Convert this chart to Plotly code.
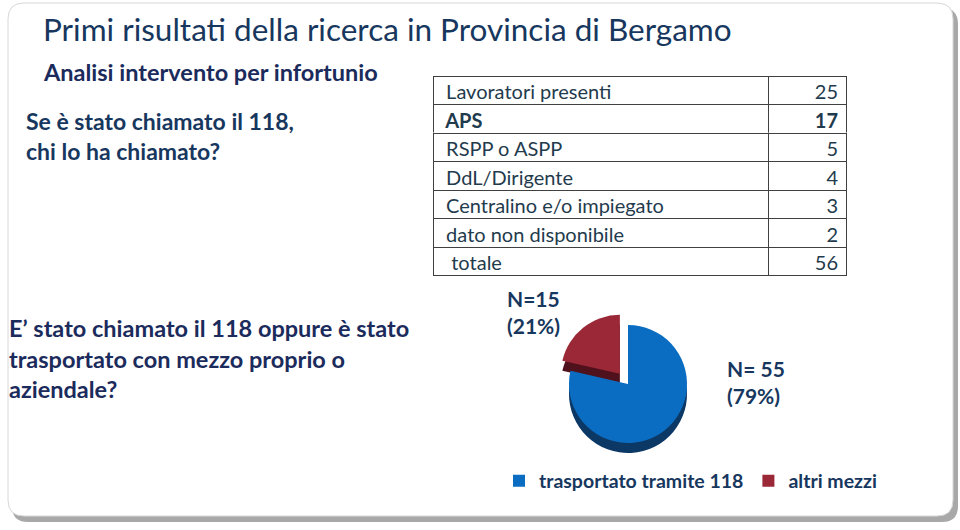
import plotly.graph_objects as go

# ---- data ----
table_labels = ["Lavoratori presenti", "APS", "RSPP o ASPP", "DdL/Dirigente",
                "Centralino e/o impiegato", "dato non disponibile", "totale"]
table_values = ["25", "17", "5", "4", "3", "2", "56"]
bold_row = "APS"

pie_labels = ["trasportato tramite 118", "altri mezzi"]
pie_values = [55, 15]
pie_text = ["N= 55<br>(79%)", "N=15<br>(21%)"]

W, H = 960, 530
FONT = "Lato"
NAVY = "#1B2B5C"
TEAL = "#17375E"
TXT = "#1F3B4D"


def px(x):
    return x / W


def py(y):
    return 1 - y / H


def rrect(x0, y0, x1, y1, r):
    X0, X1 = px(x0), px(x1)
    Y0, Y1 = py(y0), py(y1)
    rx, ry = r / W, r / H
    return (f"M {X0+rx},{Y0} L {X1-rx},{Y0} Q {X1},{Y0} {X1},{Y0-ry} "
            f"L {X1},{Y1+ry} Q {X1},{Y1} {X1-rx},{Y1} L {X0+rx},{Y1} "
            f"Q {X0},{Y1} {X0},{Y1+ry} L {X0},{Y0-ry} Q {X0},{Y0} {X0+rx},{Y0} Z")


pad = "\u00a0"
labs = [pad + (pad if l == "totale" else "") + l for l in table_labels]

fig = go.Figure()

# table, split into blocks so that one row can be bold
ROW = 28.5
TOP = 76
TX0, TX1 = 433, 846
bi = table_labels.index(bold_row)
n = len(table_labels)
blocks = [(0, bi, "normal"), (bi, bi + 1, "bold"), (bi + 1, n, "normal")]
for s, e, wt in blocks:
    if s >= e:
        continue
    y0 = TOP + s * ROW
    y1 = TOP + e * ROW + (2.5 if e == n else 0.5)
    common = dict(align=["left", "right"], height=ROW, fill_color="white",
                  line=dict(color="#404040", width=1),
                  font=dict(family=FONT, size=20, color=TXT, weight=wt))
    fig.add_trace(go.Table(
        domain=dict(x=[px(TX0), px(TX1)], y=[py(y1), py(y0)]),
        columnwidth=[335, 78],
        header=dict(values=[labs[s], table_values[s]], **common),
        cells=dict(values=[labs[s + 1:e], table_values[s + 1:e]], **common),
    ))

# pie depth (shadow)
cx, cy, half, depth = 628, 384, 72, 10
fig.add_trace(go.Pie(
    labels=pie_labels, values=pie_values, sort=False, direction="clockwise",
    rotation=0, pull=[0, 0.22], textinfo="none", hoverinfo="skip",
    showlegend=False,
    marker=dict(colors=["#0C3866", "#4F111B"], line=dict(width=0)),
    domain=dict(x=[px(cx - half), px(cx + half)],
                y=[py(cy + half + depth), py(cy - half + depth)]),
))
# pie top face
fig.add_trace(go.Pie(
    labels=pie_labels, values=pie_values, sort=False, direction="clockwise",
    rotation=0, pull=[0, 0.22], textinfo="none",
    marker=dict(colors=["#0B6DC2", "#9B2837"], line=dict(width=0)),
    domain=dict(x=[px(cx - half), px(cx + half)], y=[py(cy + half), py(cy - half)]),
))

shapes = [
    dict(type="path", xref="paper", yref="paper", path=rrect(12, 8, 958, 522, 16),
         fillcolor="#A8A8A8", line=dict(width=0), layer="below"),
    dict(type="path", xref="paper", yref="paper", path=rrect(8, 3, 953, 516, 16),
         fillcolor="white", line=dict(color="#D8D8D8", width=1), layer="below"),
]

ann = [
    dict(x=px(41), y=py(29), text="Primi risultati della ricerca in Provincia di Bergamo",
         font=dict(family=FONT, size=31.5, color=TEAL)),
    dict(x=px(41), y=py(72), text="<b>Analisi intervento per infortunio</b>",
         font=dict(family=FONT, size=23.5, color=NAVY)),
    dict(x=px(24), y=py(136), text="<b>Se è stato chiamato il 118,<br>chi lo ha chiamato?</b>",
         font=dict(family=FONT, size=23, color=TEAL)),
    dict(x=px(7), y=py(358),
         text="<b>E’ stato chiamato il 118 oppure è stato<br>trasportato con mezzo proprio o<br>aziendale?</b>",
         font=dict(family=FONT, size=23.5, color=NAVY)),
    dict(x=px(533), y=py(312), text="<b>" + pie_text[1] + "</b>", xanchor="center",
         font=dict(family=FONT, size=21, color=TEAL)),
    dict(x=px(725), y=py(382), text="<b>" + pie_text[0] + "</b>",
         font=dict(family=FONT, size=21, color=TEAL)),
]
for a in ann:
    a.setdefault("xanchor", "left")
    a.update(xref="paper", yref="paper", yanchor="middle", showarrow=False, align="left")

fig.update_layout(
    width=W, height=H, margin=dict(l=0, r=0, t=0, b=0),
    paper_bgcolor="white", plot_bgcolor="white",
    shapes=shapes, annotations=ann,
    legend=dict(orientation="h", x=px(499), y=py(481), xanchor="left", yanchor="middle",
                font=dict(family=FONT, size=19.5, color=TEAL, weight="bold"),
                bgcolor="rgba(0,0,0,0)", itemclick=False),
)

fig.write_html("out.html")
